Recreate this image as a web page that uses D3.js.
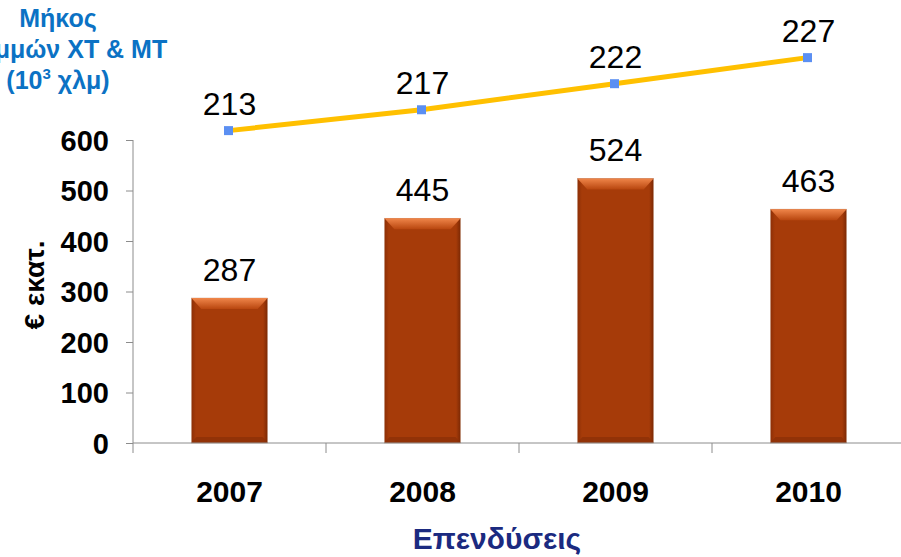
<!DOCTYPE html>
<html>
<head>
<meta charset="utf-8">
<script src="https://cdn.jsdelivr.net/npm/d3@7"></script>
<style>
  body { margin: 0; background: #fff; }
  svg { display: block; font-family: Arial, "Liberation Sans", sans-serif; }
  .tickY text { font-size: 29px; font-weight: bold; fill: #000; }
  .tickX text { font-size: 30px; font-weight: bold; fill: #000; }
  .valueLabel { font-size: 32px; fill: #000; }
</style>
</head>
<body>
<div id="chart"></div>
<script>
// Chart data
const years = ['2007', '2008', '2009', '2010'];
const investment = [287, 445, 524, 463];   // € εκατ.
const networkLength = [213, 217, 222, 227]; // 10^3 χλμ
const yTicks = [0, 100, 200, 300, 400, 500, 600];

const titleLines = ['Μήκος', 'Γραμμών ΧΤ & ΜΤ', '(10³ χλμ)'];
const yLabelText = '€ εκατ.';
const xLabelText = 'Επενδύσεις';

const width = 901,
    height = 557,
    margin = { top: 140, left: 133, bottom: 114 };

const svg = d3.select('#chart')
    .append('svg')
    .attr('width', width)
    .attr('height', height);

const defs = svg.append('defs');

// Bevel gradients for the bars
const topGrad = defs.append('linearGradient')
    .attr('id', 'bevelTop').attr('x1', 0).attr('y1', 0).attr('x2', 0).attr('y2', 1);
topGrad.append('stop').attr('offset', '0%').attr('stop-color', '#f0864a');
topGrad.append('stop').attr('offset', '100%').attr('stop-color', '#b8460f');

const sideGrad = defs.append('linearGradient')
    .attr('id', 'bodyGrad').attr('x1', 0).attr('y1', 0).attr('x2', 1).attr('y2', 0);
sideGrad.append('stop').attr('offset', '0%').attr('stop-color', '#8c2f06');
sideGrad.append('stop').attr('offset', '6%').attr('stop-color', '#a63b09');
sideGrad.append('stop').attr('offset', '94%').attr('stop-color', '#a63b09');
sideGrad.append('stop').attr('offset', '100%').attr('stop-color', '#7a2804');

// Scales
const xScale = d3.scaleBand()
    .domain(years)
    .range([margin.left, margin.left + 772])
    .padding(0);

const yScale = d3.scaleLinear()
    .domain([0, 600])
    .range([height - margin.bottom, margin.top]);

// hidden secondary scale for the network length line
const yRight = d3.scaleLinear()
    .domain([150, 230])
    .range([459, 42]);

const barW = xScale.bandwidth() * 0.395;
const cx = d => xScale(d) + xScale.bandwidth() / 2;

// Y axis
const yAxis = svg.append('g')
    .attr('class', 'tickY')
    .attr('transform', 'translate(' + margin.left + ',0)')
    .call(d3.axisLeft(yScale).tickValues(yTicks).tickSize(7).tickPadding(17).tickSizeOuter(0));
yAxis.select('.domain').attr('stroke', '#8c8c8c').attr('d', 'M0,' + yScale(600) + 'V' + (yScale(0) + 10));
yAxis.selectAll('.tick line').attr('stroke', '#8c8c8c');
yAxis.selectAll('.tick text').attr('dy', '0.36em');

// Bars
const bars = svg.append('g')
    .selectAll('g')
    .data(years)
    .enter()
    .append('g');

bars.append('rect')
    .attr('x', d => cx(d) - barW / 2)
    .attr('y', (d, i) => yScale(investment[i]))
    .attr('width', barW)
    .attr('height', (d, i) => yScale(0) - yScale(investment[i]))
    .attr('fill', 'url(#bodyGrad)')
    .attr('stroke', '#c9a08a')
    .attr('stroke-width', 0.6);

// top bevel
bars.append('path')
    .attr('fill', 'url(#bevelTop)')
    .attr('d', (d, i) => {
        const x0 = cx(d) - barW / 2, x1 = cx(d) + barW / 2, y0 = yScale(investment[i]);
        return 'M' + x0 + ',' + y0 + 'L' + x1 + ',' + y0 +
            'L' + (x1 - 10) + ',' + (y0 + 11) + 'L' + (x0 + 10) + ',' + (y0 + 11) + 'Z';
    });

// bottom shade
bars.append('path')
    .attr('fill', '#8a2f07')
    .attr('opacity', 0.7)
    .attr('d', d => {
        const x0 = cx(d) - barW / 2, x1 = cx(d) + barW / 2, y0 = yScale(0);
        return 'M' + x0 + ',' + y0 + 'L' + x1 + ',' + y0 +
            'L' + (x1 - 5) + ',' + (y0 - 6) + 'L' + (x0 + 5) + ',' + (y0 - 6) + 'Z';
    });

bars.append('text')
    .attr('class', 'valueLabel')
    .attr('text-anchor', 'middle')
    .attr('x', d => cx(d))
    .attr('y', (d, i) => yScale(investment[i]) - 17)
    .text((d, i) => investment[i]);

// X axis
const xAxis = svg.append('g')
    .attr('class', 'tickX')
    .attr('transform', 'translate(0,' + yScale(0) + ')')
    .call(d3.axisBottom(xScale).tickSize(0).tickPadding(38));
xAxis.select('.domain').attr('stroke', '#8c8c8c').attr('d', 'M' + margin.left + ',0H' + width);
xAxis.selectAll('.sep')
    .data(years.slice(1))
    .enter()
    .append('line')
    .attr('class', 'sep')
    .attr('x1', d => xScale(d))
    .attr('x2', d => xScale(d))
    .attr('y1', 0)
    .attr('y2', 10)
    .attr('stroke', '#8c8c8c');

// Line for network length
const points = years.map((d, i) => [cx(d) - 1, yRight(networkLength[i])]);

svg.append('path')
    .datum(points)
    .attr('fill', 'none')
    .attr('stroke', '#ffc000')
    .attr('stroke-width', 5)
    .attr('d', d3.line());

svg.append('g')
    .selectAll('rect')
    .data(points)
    .enter()
    .append('rect')
    .attr('x', d => d[0] - 4.5)
    .attr('y', d => d[1] - 4.5)
    .attr('width', 9)
    .attr('height', 9)
    .attr('fill', '#5b8ff2');

svg.append('g')
    .selectAll('text')
    .data(points)
    .enter()
    .append('text')
    .attr('class', 'valueLabel')
    .attr('text-anchor', 'middle')
    .attr('x', d => d[0] + 1)
    .attr('y', d => d[1] - 16)
    .text((d, i) => networkLength[i]);

// Title for line series (top left), with a real superscript for ³
const title = svg.append('text')
    .attr('fill', '#0b72c4')
    .attr('font-weight', 'bold')
    .attr('font-size', 25)
    .attr('text-anchor', 'middle');

titleLines.forEach((line, i) => {
    const parts = line.split('³');
    title.append('tspan')
        .attr('x', 58)
        .attr('y', 27 + i * 31)
        .text(parts[0]);
    if (parts.length > 1) {
        title.append('tspan')
            .attr('font-size', 15)
            .attr('dy', -10)
            .text('3');
        title.append('tspan')
            .attr('dy', 10)
            .text(parts[1]);
    }
});

// Y axis label
svg.append('text')
    .attr('transform', 'translate(44,' + 285 + ') rotate(-90)')
    .attr('text-anchor', 'middle')
    .attr('font-size', 28)
    .attr('font-weight', 'bold')
    .text(yLabelText);

// X axis label
svg.append('text')
    .attr('x', 497)
    .attr('y', 549)
    .attr('text-anchor', 'middle')
    .attr('font-size', 30)
    .attr('font-weight', 'bold')
    .attr('fill', '#1b2a80')
    .text(xLabelText);
</script>
</body>
</html>
